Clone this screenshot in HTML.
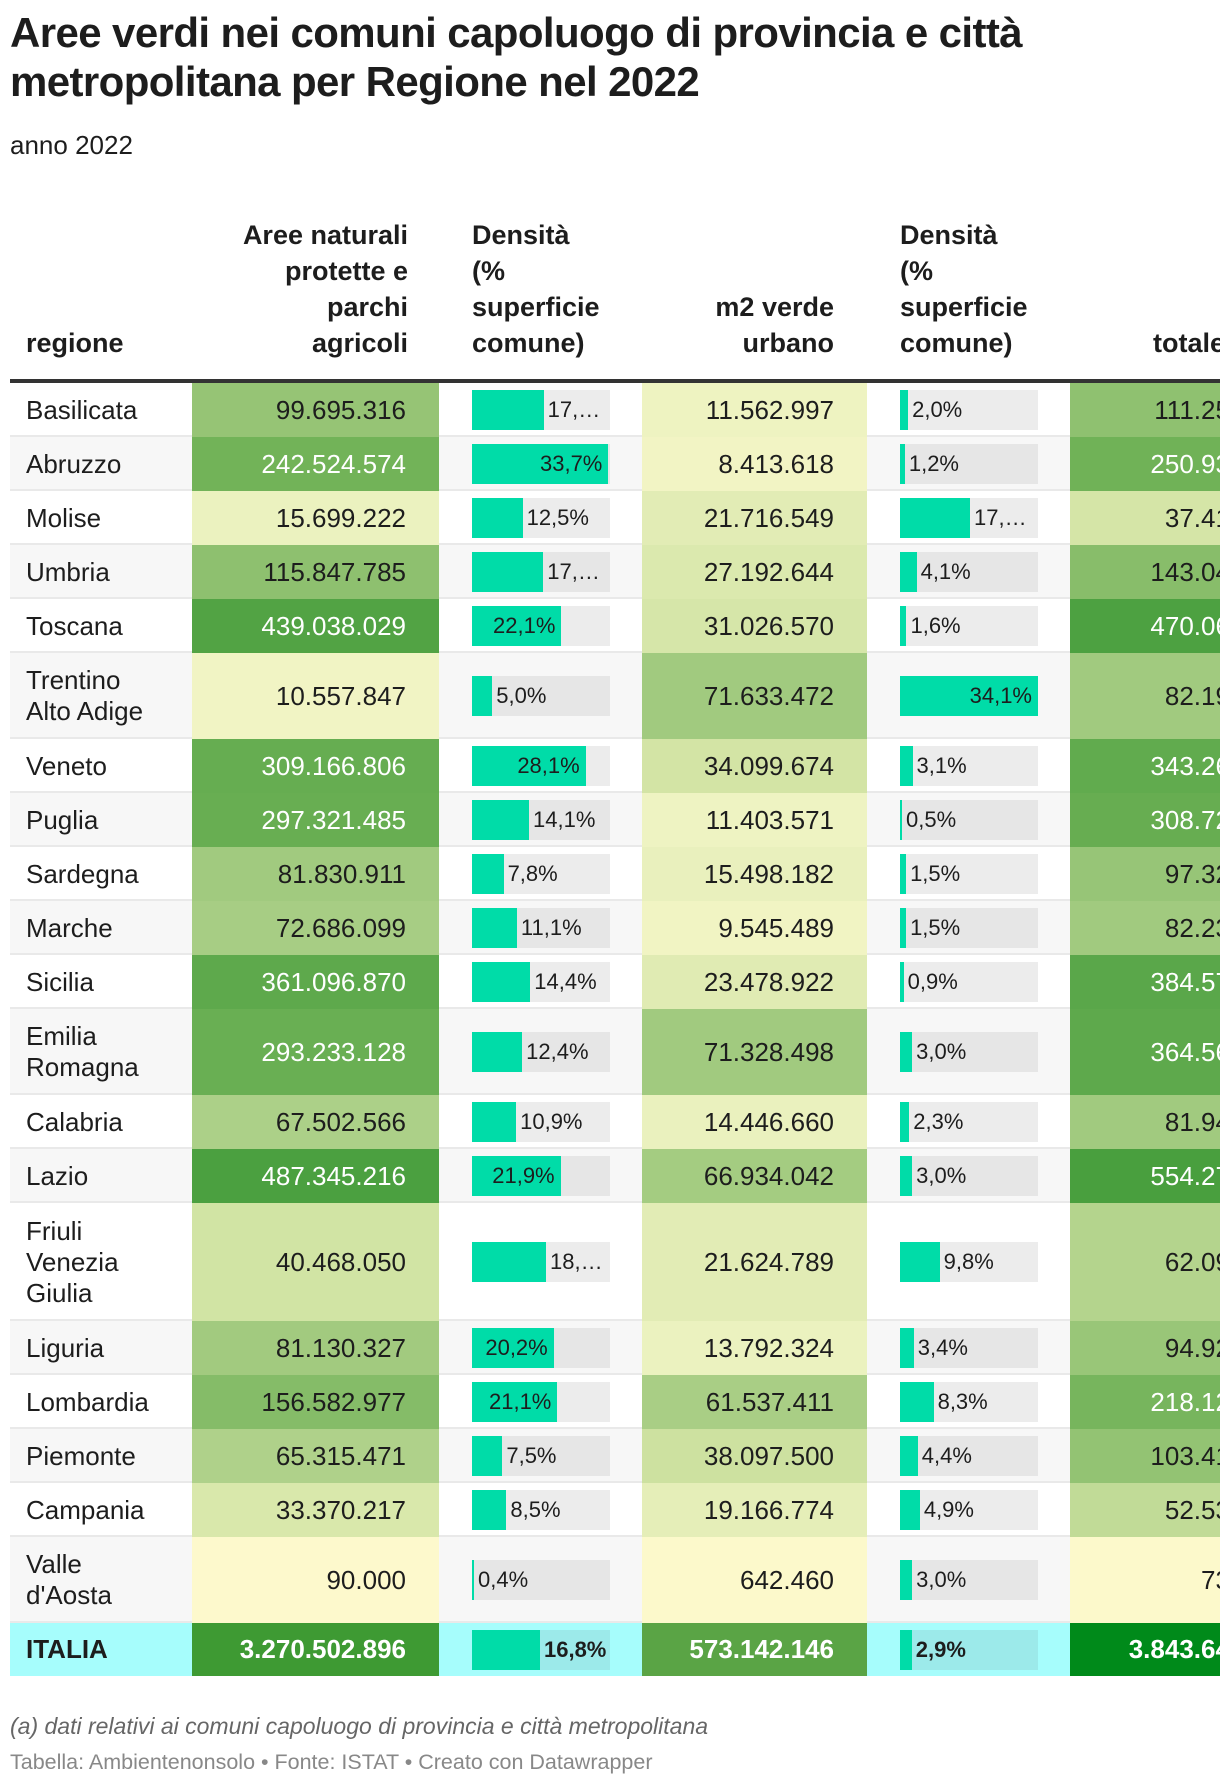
<!DOCTYPE html>
<html><head><meta charset="utf-8">
<style>
html,body{margin:0;width:1220px;height:1790px;overflow:hidden}
body{background:#fff;font-family:"Liberation Sans",sans-serif;color:#1d1d1d;position:relative}
#clip{position:absolute;left:0;top:0;width:1220px;height:1790px;overflow:hidden}
.a{position:absolute}
.t{font-weight:bold;font-size:42px;left:10px;line-height:49px;letter-spacing:-0.6px}
.h{font-weight:bold;font-size:27px;line-height:36px;position:absolute;white-space:nowrap}
.cell{position:absolute;font-size:26px;white-space:nowrap;display:flex;align-items:center}
.lbl{position:absolute;font-size:22px;white-space:nowrap;overflow:hidden;text-overflow:ellipsis;line-height:40px}
</style></head><body>
<div id="clip">
<div class="a t" style="top:8px">Aree verdi nei comuni capoluogo di provincia e città<br>metropolitana per Regione nel 2022</div>
<div class="a" style="left:10px;top:130px;font-size:26px">anno 2022</div>
<div class="h" style="left:26px;top:325px">regione</div>
<div class="h" style="right:812px;top:217px;text-align:right">Aree naturali<br>protette e<br>parchi<br>agricoli</div>
<div class="h" style="left:472px;top:217px">Densità<br>(%<br>superficie<br>comune)</div>
<div class="h" style="right:386px;top:289px;text-align:right">m2 verde<br>urbano</div>
<div class="h" style="left:900px;top:217px">Densità<br>(%<br>superficie<br>comune)</div>
<div class="h" style="left:1153px;top:325px">totale</div>
<div class="a" style="left:10px;top:379px;width:1210px;height:4px;background:#333"></div>
<div id="tbl"></div>
<div class="a" style="left:10px;top:1713px;font-size:23px;font-style:italic;color:#666">(a) dati relativi ai comuni capoluogo di provincia e città metropolitana</div>
<div class="a" style="left:10px;top:1750px;font-size:21.5px;color:#888">Tabella: Ambientenonsolo • Fonte: ISTAT • Creato con Datawrapper</div>
</div>
<script>
const regions=["Basilicata","Abruzzo","Molise","Umbria","Toscana","Trentino<br>Alto Adige","Veneto","Puglia","Sardegna","Marche","Sicilia","Emilia<br>Romagna","Calabria","Lazio","Friuli<br>Venezia<br>Giulia","Liguria","Lombardia","Piemonte","Campania","Valle<br>d'Aosta","ITALIA"];
const aree=[99695316,242524574,15699222,115847785,439038029,10557847,309166806,297321485,81830911,72686099,361096870,293233128,67502566,487345216,40468050,81130327,156582977,65315471,33370217,90000,3270502896];
const dens1=[17.7,33.7,12.5,17.6,22.1,5.0,28.1,14.1,7.8,11.1,14.4,12.4,10.9,21.9,18.3,20.2,21.1,7.5,8.5,0.4,16.8];
const verde=[11562997,8413618,21716549,27192644,31026570,71633472,34099674,11403571,15498182,9545489,23478922,71328498,14446660,66934042,21624789,13792324,61537411,38097500,19166774,642460,573142146];
const dens2=[2.0,1.2,17.3,4.1,1.6,34.1,3.1,0.5,1.5,1.5,0.9,3.0,2.3,3.0,9.8,3.4,8.3,4.4,4.9,3.0,2.9];
const lines=[1,1,1,1,1,2,1,1,1,1,1,2,1,1,3,1,1,1,1,2,1];
const fmt=v=>v.toLocaleString('de-DE');
const pct=v=>v.toFixed(1).replace('.',',')+'%';
function hex(c){return [1,3,5].map(i=>parseInt(c.substr(i,2),16))}
const stops=[[0,'#fdf9cc'],[15e6,'#ecf2c0'],[40e6,'#d2e4a4'],[70e6,'#a9ce85'],[110e6,'#8fc170'],[250e6,'#70b257'],[480e6,'#4ba040'],[1e9,'#3f9b35'],[3.3e9,'#3d9a33'],[4e9,'#008a1a']];
function color(v){for(let i=1;i<stops.length;i++){if(v<=stops[i][0]){const a=stops[i-1],b=stops[i];const t=(v-a[0])/(b[0]-a[0]);const ca=hex(a[1]),cb=hex(b[1]);return 'rgb('+ca.map((x,k)=>Math.round(x+(cb[k]-x)*t)).join(',')+')';}}return stops[stops.length-1][1];}
const maxD=34.1, barW=138;
const tbl=document.getElementById('tbl');
let y=383;
function add(parent,cls,style,html,name){const d=document.createElement('div');d.className=cls;d.style.cssText=style;if(html!==undefined)d.innerHTML=html;


parent.appendChild(d);return d;}
for(let i=0;i<regions.length;i++){
  const it=i===regions.length-1;
  const h=it?53:(lines[i]===1?54:(lines[i]===2?86:118));
  const bg=it?'#a6fdfc':(i%2?'#f7f7f7':'#fff');
  const bold=it?'font-weight:bold;':'';
  add(tbl,'a',`left:10px;top:${y}px;width:1210px;height:${h}px;background:${bg}`,'','row-bg');
  if(!it)add(tbl,'a',`left:10px;top:${y+h-2}px;width:1210px;height:2px;background:#e9e9e9`,'','row-separator');
  add(tbl,'cell',`left:26px;top:${y}px;height:${h}px;line-height:31px;${bold}`,regions[i],'region-label');
  const tot=aree[i]+verde[i];
  const c1=it?'#3e9a33':color(aree[i]), c3=it?'#5aa445':color(verde[i]*1.15), c5=it?'#008a1a':color(tot);
  const w=v=>v>=200e6?'#fff':'#1d1d1d';
  add(tbl,'cell',`left:192px;top:${y}px;width:214px;padding-right:33px;justify-content:flex-end;height:${h}px;background:${c1};color:${it?'#fff':w(aree[i])};${bold}`,fmt(aree[i]),'aree-naturali-value');
  add(tbl,'cell',`left:642px;top:${y}px;width:192px;padding-right:33px;justify-content:flex-end;height:${h}px;background:${c3};color:${it?'#fff':w(verde[i])};${bold}`,fmt(verde[i]),'m2-verde-value');
  add(tbl,'cell',`left:1070px;top:${y}px;width:225px;padding-right:30px;justify-content:flex-end;height:${h}px;background:${c5};color:${it?'#fff':w(tot)};${bold}`,fmt(tot),'totale-value');
  [[dens1,472,'densita-1'],[dens2,900,'densita-2']].forEach(([arr,x,nm])=>{
    const by=y+Math.round((h-40)/2);
    const tbg=it?'#9ceaea':(i%2?'#e6e6e6':'#ececec');
    add(tbl,'a',`left:${x}px;top:${by}px;width:${barW}px;height:40px;background:${tbg}`,'',nm+'-bar-bg');
    const bw=Math.max(2,arr[i]/maxD*barW);
    add(tbl,'a',`left:${x}px;top:${by}px;width:${bw}px;height:40px;background:#00dca8`,'',nm+'-bar');
    const txt=pct(arr[i]);
    if(bw>=80){add(tbl,'lbl',`left:${x}px;top:${by}px;width:${bw-6}px;text-align:right;${bold}`,txt,nm+'-label');}
    else{add(tbl,'lbl',`left:${x+bw+4}px;top:${by}px;width:${barW-bw-6}px;${bold}`,txt,nm+'-label');}
  });
  y+=h;
}
</script>
</body></html>
